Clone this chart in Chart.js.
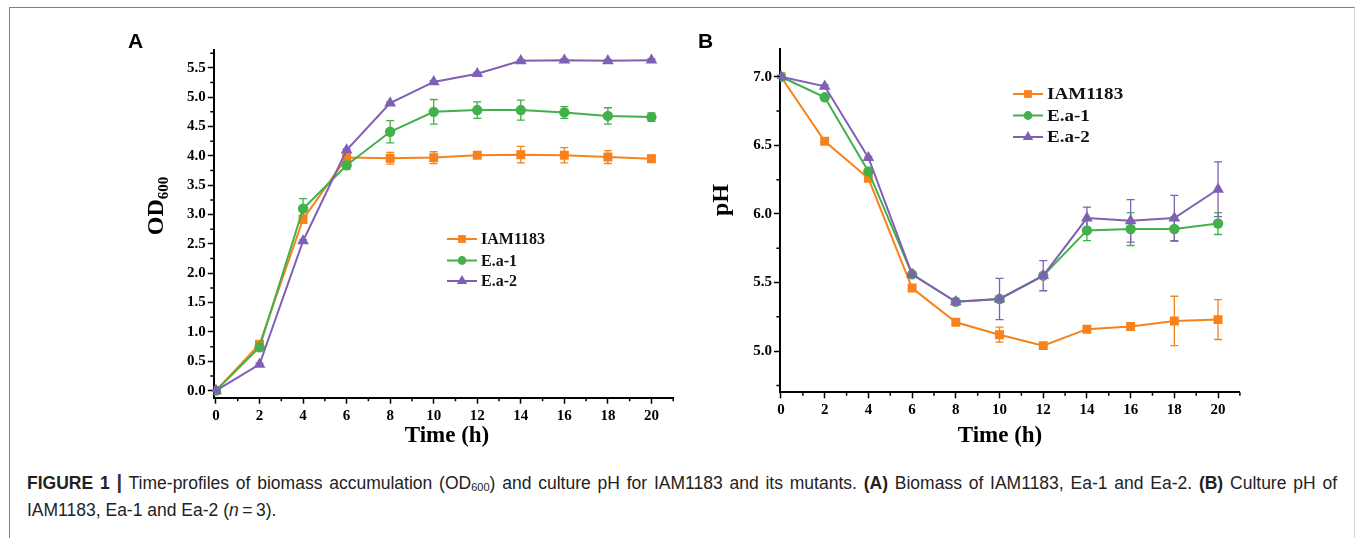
<!DOCTYPE html>
<html>
<head>
<meta charset="utf-8">
<script src="https://cdn.jsdelivr.net/npm/chart.js@4.4.1/dist/chart.umd.min.js"></script>
<style>
  html, body { margin: 0; padding: 0; background: #fff; }
  body { width: 1355px; height: 538px; position: relative; overflow: hidden; }
  #frame {
    position: absolute; left: 9px; top: 7px; width: 1346px; height: 531px;
    border-top: 1px solid #808080; border-left: 1px solid #808080; border-right: 1px solid #d8d8d8;
    box-sizing: border-box;
  }
  #panelA { position: absolute; left: 0; top: 0; }
  #panelB { position: absolute; left: 680px; top: 0; }
  #caption {
    position: absolute; left: 27px; top: 471px;
    font: 17.5px "Liberation Sans", Arial, sans-serif; line-height: 23px;
    color: #222;
  }
  #caption .line1 { width: 1310px; white-space: nowrap; text-align: justify; text-align-last: justify; }
  #caption .line2 { white-space: nowrap; }
  #caption sub { font-size: 11px; vertical-align: -2px; }
  #caption .bar { font-size: 20px; font-weight: bold; color: #333; }
</style>
</head>
<body>
<div id="frame"></div>
<canvas id="panelA" width="680" height="450"></canvas>
<canvas id="panelB" width="675" height="450"></canvas>
<div id="caption">
  <div class="line1"><b>FIGURE 1</b> <span class="bar">|</span> Time-profiles of biomass accumulation (OD<sub>600</sub>) and culture pH for IAM1183 and its mutants. <b>(A)</b> Biomass of IAM1183, Ea-1 and Ea-2. <b>(B)</b> Culture pH of</div>
  <div class="line2">IAM1183, Ea-1 and Ea-2 (<i>n</i>&thinsp;=&thinsp;3).</div>
</div>
<script>
// ---- data ----
const timeHours = [0, 2, 4, 6, 8, 10, 12, 14, 16, 18, 20];
const timeTicks = [0, 2, 4, 6, 8, 10, 12, 14, 16, 18, 20];
const odTicks = [0, 0.5, 1, 1.5, 2, 2.5, 3, 3.5, 4, 4.5, 5, 5.5];
const phTicks = [5.0, 5.5, 6.0, 6.5, 7.0];
const seriesNames = ["IAM1183", "E.a-1", "E.a-2"];

// panel A: OD600
const odIam = [0.0, 0.79, 2.92, 3.97, 3.96, 3.97, 4.01, 4.02, 4.01, 3.98, 3.95];
const odIamErr = [0.01, 0.05, 0.07, 0.03, 0.1, 0.1, 0.05, 0.14, 0.13, 0.11, 0.06];
const odEa1 = [0.0, 0.74, 3.1, 3.84, 4.41, 4.75, 4.78, 4.78, 4.74, 4.68, 4.66];
const odEa1Err = [0.01, 0.04, 0.17, 0.07, 0.19, 0.21, 0.14, 0.17, 0.1, 0.14, 0.07];
const odEa2 = [0.0, 0.45, 2.55, 4.1, 4.9, 5.26, 5.4, 5.62, 5.63, 5.62, 5.63];
const odEa2Err = [0.01, 0.02, 0.02, 0.02, 0.02, 0.02, 0.02, 0.02, 0.02, 0.02, 0.02];

// panel B: pH
const phIam = [7.0, 6.53, 6.26, 5.46, 5.21, 5.12, 5.04, 5.16, 5.18, 5.22, 5.23];
const phIamErr = [0.01, 0.01, 0.01, 0.01, 0.01, 0.055, 0.01, 0.01, 0.01, 0.18, 0.145];
const phEa1 = [7.0, 6.85, 6.31, 5.56, 5.36, 5.38, 5.55, 5.88, 5.89, 5.89, 5.93];
const phEa1Err = [0.01, 0.01, 0.01, 0.01, 0.01, 0.02, 0.02, 0.075, 0.12, 0.09, 0.08];
const phEa2 = [7.0, 6.93, 6.41, 5.56, 5.36, 5.38, 5.55, 5.97, 5.95, 5.97, 6.18];
const phEa2Err = [0.01, 0.01, 0.01, 0.01, 0.01, 0.15, 0.11, 0.08, 0.155, 0.165, 0.2];

// ---- styles ----
const seriesColors = ["#f7821b", "#43b04b", "#7f60b4"];
const seriesMarkers = ["rect", "circle", "triangle"];
const markerRadius = [6.3, 5.2, 6.8];
const serif = "'Liberation Serif', 'Times New Roman', serif";

function makeDatasets(valueLists, errorLists) {
  return valueLists.map((vals, i) => ({
    label: seriesNames[i],
    data: timeHours.map((t, j) => ({ x: t, y: vals[j] })),
    errors: errorLists[i],
    borderColor: seriesColors[i],
    backgroundColor: seriesColors[i],
    pointBackgroundColor: seriesColors[i],
    pointBorderColor: seriesColors[i],
    pointStyle: seriesMarkers[i],
    pointRadius: markerRadius[i],
    pointBorderWidth: 0,
    borderWidth: 2,
    tension: 0,
    order: 2 - i, // purple on top
  }));
}

const errorBarPlugin = {
  id: "errorBars",
  beforeDatasetsDraw(chart) {
    const { ctx } = chart;
    const x = chart.scales.x;
    const y = chart.scales.y;
    chart.data.datasets.forEach((ds) => {
      ctx.save();
      ctx.strokeStyle = ds.borderColor;
      ctx.lineWidth = 1.3;
      ds.data.forEach((p, i) => {
        const e = ds.errors[i];
        if (!e) return;
        const px = x.getPixelForValue(p.x);
        const top = y.getPixelForValue(p.y + e);
        const bot = y.getPixelForValue(p.y - e);
        ctx.beginPath();
        ctx.moveTo(px, top);
        ctx.lineTo(px, bot);
        ctx.moveTo(px - 4, top);
        ctx.lineTo(px + 4, top);
        ctx.moveTo(px - 4, bot);
        ctx.lineTo(px + 4, bot);
        ctx.stroke();
      });
      ctx.restore();
    });
  },
};

function minorValues(scale, majors) {
  const step = (majors[1] - majors[0]) / 2;
  const out = [];
  let v = majors[0] - step * Math.floor((majors[0] - scale.min) / step + 1e-9);
  for (; v <= scale.max + 1e-9; v += step) {
    if (!majors.some((m) => Math.abs(m - v) < 1e-6)) out.push(v);
  }
  return out;
}

const decorPlugin = {
  id: "decor",
  afterDraw(chart, args, opts) {
    const { ctx, chartArea: area } = chart;
    const x = chart.scales.x;
    const y = chart.scales.y;
    ctx.save();

    // minor ticks
    ctx.strokeStyle = "#000";
    ctx.lineWidth = 1.5;
    ctx.beginPath();
    minorValues(x, opts.xMajors).forEach((v) => {
      const px = x.getPixelForValue(v);
      ctx.moveTo(px, area.bottom);
      ctx.lineTo(px, area.bottom + 3.5);
    });
    minorValues(y, opts.yMajors).forEach((v) => {
      const py = y.getPixelForValue(v);
      ctx.moveTo(area.left, py);
      ctx.lineTo(area.left - 3.5, py);
    });
    ctx.stroke();

    ctx.fillStyle = "#000";

    // panel letter
    ctx.font = "bold 21px 'Liberation Sans', Arial, sans-serif";
    ctx.textAlign = "left";
    ctx.textBaseline = "alphabetic";
    ctx.fillText(opts.letter, opts.letterX, 48);

    // x title
    ctx.font = "bold 23px " + serif;
    ctx.textAlign = "center";
    ctx.fillText("Time (h)", opts.xTitleX, 442);

    // y title (rotated, optional subscript)
    ctx.save();
    ctx.translate(opts.yTitleX, opts.yTitleY);
    ctx.rotate(-Math.PI / 2);
    ctx.textAlign = "left";
    ctx.font = "bold 24px " + serif;
    const mainW = ctx.measureText(opts.yTitle).width;
    ctx.font = "bold 15px " + serif;
    const subW = opts.yTitleSub ? ctx.measureText(opts.yTitleSub).width : 0;
    const start = -(mainW + subW) / 2;
    ctx.font = "bold 24px " + serif;
    ctx.fillText(opts.yTitle, start, 0);
    if (opts.yTitleSub) {
      ctx.font = "bold 15px " + serif;
      ctx.fillText(opts.yTitleSub, start + mainW, 5);
    }
    ctx.restore();

    // legend
    ctx.textAlign = "left";
    ctx.textBaseline = "middle";
    chart.data.datasets.forEach((ds, i) => {
      const ry = opts.legendRows[i];
      ctx.strokeStyle = ds.borderColor;
      ctx.fillStyle = ds.borderColor;
      ctx.lineWidth = 2;
      ctx.beginPath();
      ctx.moveTo(opts.legendX, ry);
      ctx.lineTo(opts.legendX + 30, ry);
      ctx.stroke();
      Chart.helpers.drawPoint(
        ctx,
        { pointStyle: ds.pointStyle, radius: ds.pointRadius - 0.8, borderWidth: 0, rotation: 0 },
        opts.legendX + 15,
        ry
      );
      ctx.save();
      ctx.translate(opts.legendX + 34, ry + 1);
      ctx.scale(opts.legendStretch, 1);
      ctx.font = "bold " + opts.legendSize + "px " + serif;
      ctx.fillStyle = "#111";
      ctx.fillText(ds.label, 0, 0);
      ctx.restore();
    });

    ctx.restore();
  },
};

function makeChart(canvasId, datasets, cfg) {
  const tickFont = { family: serif, weight: "bold", size: 15 };
  return new Chart(document.getElementById(canvasId), {
    type: "line",
    data: { datasets: datasets },
    options: {
      responsive: false,
      animation: false,
      devicePixelRatio: 1,
      layout: { padding: cfg.padding },
      plugins: {
        legend: { display: false },
        tooltip: { enabled: false },
        decor: cfg.decor,
      },
      scales: {
        x: {
          type: "linear",
          min: cfg.xMin,
          max: 21,
          afterBuildTicks: (s) => { s.ticks = timeTicks.map((v) => ({ value: v })); },
          afterFit: (s) => { s.height = 40; },
          ticks: { color: "#000", font: tickFont, padding: 3, maxRotation: 0, autoSkip: false, callback: (v) => String(v) },
          grid: { drawOnChartArea: false, drawTicks: true, tickLength: 6, tickWidth: 1.5, tickColor: "#000" },
          border: { display: true, color: "#000", width: 2 },
        },
        y: {
          type: "linear",
          min: cfg.yMin,
          max: cfg.yMax,
          afterBuildTicks: (s) => { s.ticks = cfg.yTicks.map((v) => ({ value: v })); },
          afterFit: (s) => { s.width = 60; },
          ticks: { color: "#000", font: tickFont, padding: 2, autoSkip: false, callback: (v) => v.toFixed(1) },
          grid: { drawOnChartArea: false, drawTicks: true, tickLength: 6, tickWidth: 1.5, tickColor: "#000" },
          border: { display: true, color: "#000", width: 2 },
        },
      },
    },
    plugins: [errorBarPlugin, decorPlugin],
  });
}

makeChart("panelA", makeDatasets([odIam, odEa1, odEa2], [odIamErr, odEa1Err, odEa2Err]), {
  xMin: -0.1,
  yMin: -0.12,
  yMax: 5.8,
  yTicks: odTicks,
  padding: { left: 153.8, right: 6.2, top: 50.2, bottom: 12.3 },
  decor: {
    xMajors: timeTicks, yMajors: odTicks,
    letter: "A", letterX: 128,
    xTitleX: 447,
    yTitle: "OD", yTitleSub: "600", yTitleX: 163, yTitleY: 206,
    legendX: 447, legendRows: [239, 260.5, 281], legendSize: 16, legendStretch: 1,
  },
});

makeChart("panelB", makeDatasets([phIam, phEa1, phEa2], [phIamErr, phEa1Err, phEa2Err]), {
  xMin: -0.05,
  yMin: 4.7,
  yMax: 7.2,
  yTicks: phTicks,
  padding: { left: 39.9, right: 115.1, top: 49.3, bottom: 17.7 },
  decor: {
    xMajors: timeTicks, yMajors: phTicks,
    letter: "B", letterX: 18,
    xTitleX: 320,
    yTitle: "pH", yTitleSub: "", yTitleX: 48, yTitleY: 200,
    legendX: 333, legendRows: [94, 115.5, 137], legendSize: 17, legendStretch: 1.12,
  },
});
</script>
</body>
</html>
